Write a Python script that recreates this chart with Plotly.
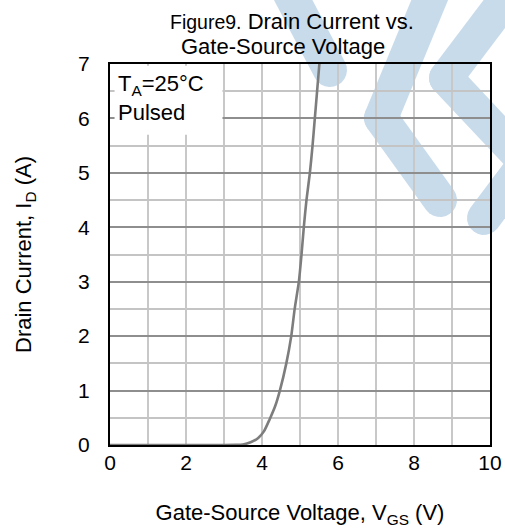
import math
import plotly.graph_objects as go

# Transfer characteristic: drain current vs gate-source voltage (TA = 25 °C, pulsed)
vgs_v = [0.0, 1.0, 2.0, 3.0, 3.3, 3.5, 3.7, 3.9, 4.05, 4.2, 4.35, 4.47,
         4.64, 4.77, 4.86, 4.97, 5.04, 5.10, 5.17, 5.26, 5.33, 5.39, 5.45, 5.51]
id_a = [0.0, 0.0, 0.0, 0.0, 0.002, 0.01, 0.05, 0.13, 0.25, 0.47, 0.72, 1.0,
        1.5, 2.0, 2.5, 3.0, 3.5, 4.0, 4.5, 5.0, 5.5, 6.0, 6.5, 7.0]

x_ticks = [0, 2, 4, 6, 8, 10]
y_ticks = [0, 1, 2, 3, 4, 5, 6, 7]

FONT = "Liberation Sans, Arial, sans-serif"
W, H = 505, 528
L, R, T, B = 110, 15, 64, 83
PW, PH = W - L - R, H - T - B


def to_paper(px, py):
    return (px - L) / PW, (H - B - py) / PH


def capsule_path(p0, p1, width, n=12):
    """Closed SVG path (paper coords) of a band with rounded ends."""
    (x0, y0), (x1, y1) = p0, p1
    dx, dy = x1 - x0, y1 - y0
    ln = math.hypot(dx, dy)
    ux, uy = dx / ln, dy / ln
    nx, ny = -uy, ux
    r = width / 2
    pts = []
    base = math.atan2(ny, nx)
    for k in range(n + 1):  # cap around p1
        a = base - math.pi * k / n
        pts.append((x1 + r * math.cos(a), y1 + r * math.sin(a)))
    for k in range(n + 1):  # cap around p0
        a = base + math.pi - math.pi * k / n
        pts.append((x0 + r * math.cos(a), y0 + r * math.sin(a)))
    conv = [to_paper(px, py) for px, py in pts]
    return "M " + " L ".join(f"{a:.4f},{b:.4f}" for a, b in conv) + " Z"


# light-blue logo bands behind the chart (pixel centre-lines)
logo_bands = [
    ((280, -25), (330, 70)),
    ((440, -25), (381, 118)),
    ((381, 118), (440, 200)),
    ((520, -20), (446, 78)),
    ((446, 78), (525, 162)),
    ((535, 150), (484, 218)),
]

shapes = []
for p0, p1 in logo_bands:
    shapes.append(dict(type="path", path=capsule_path(p0, p1, 34),
                       xref="paper", yref="paper", layer="below",
                       fillcolor="#c8dbeb", line=dict(width=0)))

# white panel behind the condition label
shapes.append(dict(type="rect", xref="x", yref="y", x0=0.12, x1=2.96,
                   y0=5.7, y1=6.97, fillcolor="white", line=dict(width=0),
                   layer="between"))

fig = go.Figure()
fig.add_trace(go.Scatter(
    x=vgs_v, y=id_a, mode="lines",
    line=dict(color="#7d7d7d", width=2.6, shape="spline", smoothing=0.6),
    showlegend=False, hoverinfo="skip",
))

fig.update_layout(
    width=W, height=H,
    margin=dict(l=L, r=R, t=T, b=B, autoexpand=False),
    paper_bgcolor="white",
    plot_bgcolor="rgba(0,0,0,0)",
    font=dict(family=FONT, size=21, color="black"),
    shapes=shapes,
    annotations=[
        dict(text="<span style='font-size:19.5px'>Figure9.</span> Drain Current vs.",
             xref="paper", yref="paper", x=to_paper(291.5, 0)[0],
             y=to_paper(0, 22)[1], xanchor="center", yanchor="middle",
             showarrow=False, font=dict(size=22)),
        dict(text="Gate-Source Voltage",
             xref="paper", yref="paper", x=to_paper(283, 0)[0],
             y=to_paper(0, 47)[1], xanchor="center", yanchor="middle",
             showarrow=False, font=dict(size=22)),
        dict(text="T<sub>A</sub>=25°C<br>Pulsed", align="left",
             xref="paper", yref="paper", x=to_paper(116, 0)[0],
             y=to_paper(0, 69)[1], xanchor="left", yanchor="top",
             showarrow=False, font=dict(size=22)),
    ],
    xaxis=dict(
        range=[0, 10], tickvals=x_ticks, ticktext=[str(v) for v in x_ticks],
        showgrid=True, gridcolor="#c8c8c8", gridwidth=1.5,
        minor=dict(dtick=1, tick0=0, showgrid=True, gridcolor="#c8c8c8",
                   gridwidth=1.5),
        showline=True, linecolor="black", linewidth=2, mirror=True,
        ticks="", ticklabelstandoff=-2,
        zeroline=False, tickfont=dict(size=21), automargin=False,
        title=dict(text="Gate-Source Voltage, V<sub>GS</sub> (V)",
                   standoff=34, font=dict(size=22)),
    ),
    yaxis=dict(
        range=[0, 7], tickvals=y_ticks, ticktext=[str(v) for v in y_ticks],
        showgrid=True, gridcolor="#8e8e8e", gridwidth=2,
        minor=dict(dtick=0.5, tick0=0, showgrid=True, gridcolor="#c4c4c4",
                   gridwidth=2),
        showline=True, linecolor="black", linewidth=2, mirror=True,
        ticks="outside", ticklen=14, tickcolor="rgba(0,0,0,0)",
        zeroline=False, tickfont=dict(size=21), automargin=False,
        title=dict(text="Drain Current, I<sub>D</sub> (A)",
                   standoff=40, font=dict(size=22)),
    ),
)

fig.write_html("out.html")
